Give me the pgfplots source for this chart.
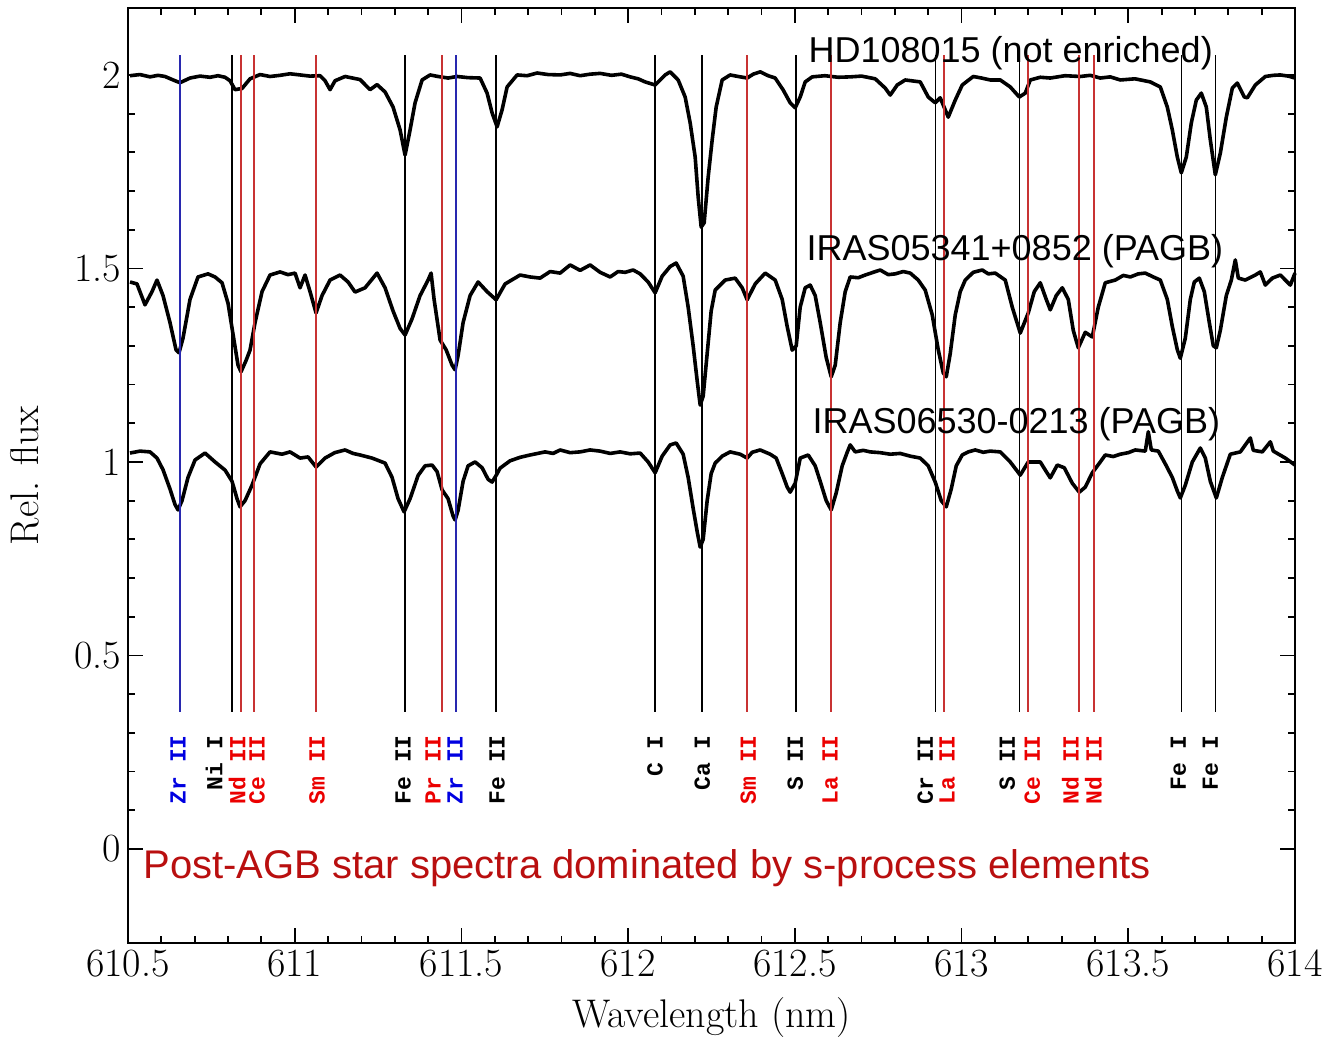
\documentclass[border=0pt]{standalone}
\usepackage{fontspec}
\usepackage{pgfplots}
\pgfplotsset{compat=1.18}
\newfontfamily\arial{Liberation Sans}
\newfontfamily\mono{Liberation Mono}
\definecolor{lred}{RGB}{200,50,50}
\definecolor{lblue}{RGB}{40,40,175}
\definecolor{tred}{RGB}{235,0,0}
\definecolor{tblue}{RGB}{0,0,225}
\definecolor{ared}{RGB}{185,15,15}
\pgfplotstableread{
x y
610.506 1.998
610.536 2.001
610.566 1.995
610.590 1.999
610.611 1.996
610.641 1.985
610.656 1.980
610.686 1.992
610.716 1.997
610.746 1.994
610.770 1.998
610.791 1.994
610.806 1.985
610.821 1.962
610.842 1.965
610.866 1.990
610.896 2.001
610.926 1.996
610.956 1.999
610.986 2.003
611.016 2.000
611.046 1.997
611.076 1.998
611.091 1.985
611.106 1.962
611.121 1.985
611.151 1.996
611.196 1.988
611.226 1.962
611.247 1.975
611.271 1.956
611.295 1.917
611.316 1.858
611.331 1.793
611.346 1.858
611.361 1.928
611.382 1.987
611.406 2.000
611.430 1.996
611.460 1.992
611.487 1.996
611.520 1.993
611.556 1.992
611.577 1.953
611.592 1.902
611.607 1.866
611.622 1.910
611.637 1.969
611.667 2.000
611.697 1.998
611.727 2.005
611.760 2.001
611.796 2.000
611.826 2.004
611.856 1.998
611.886 2.002
611.916 2.004
611.950 1.999
611.980 2.002
612.006 1.995
612.030 1.990
612.051 1.982
612.081 1.974
612.111 2.000
612.126 2.008
612.150 1.987
612.171 1.943
612.186 1.876
612.201 1.788
612.210 1.685
612.219 1.607
612.228 1.618
612.240 1.736
612.252 1.832
612.264 1.917
612.282 1.987
612.306 2.000
612.330 1.996
612.357 1.992
612.375 2.002
612.396 2.008
612.420 1.998
612.441 1.992
612.465 1.961
612.486 1.928
612.501 1.915
612.516 1.943
612.531 1.982
612.552 1.995
612.590 1.998
612.630 1.994
612.666 1.995
612.700 1.997
612.741 1.990
612.771 1.966
612.786 1.948
612.807 1.974
612.831 1.987
612.876 1.982
612.900 1.943
612.921 1.928
612.936 1.941
612.960 1.891
612.981 1.935
613.002 1.974
613.035 1.996
613.060 1.992
613.086 1.987
613.116 1.987
613.146 1.969
613.173 1.943
613.191 1.953
613.206 1.987
613.236 1.994
613.266 1.992
613.310 1.998
613.356 1.996
613.386 1.999
613.416 1.992
613.446 1.995
613.476 1.987
613.520 1.990
613.566 1.982
613.596 1.969
613.617 1.917
613.632 1.858
613.647 1.788
613.659 1.747
613.674 1.788
613.689 1.876
613.704 1.935
613.719 1.953
613.734 1.917
613.746 1.832
613.761 1.742
613.776 1.798
613.794 1.891
613.812 1.966
613.827 1.979
613.848 1.943
613.857 1.941
613.881 1.974
613.911 1.996
613.935 1.999
613.956 2.000
613.980 1.997
614.000 1.992
}\specA
\pgfplotstableread{
x y
610.506 1.465
610.527 1.460
610.551 1.406
610.572 1.440
610.587 1.470
610.605 1.430
610.626 1.360
610.644 1.290
610.653 1.282
610.665 1.320
610.686 1.420
610.710 1.478
610.740 1.486
610.761 1.478
610.782 1.463
610.800 1.410
610.815 1.330
610.830 1.250
610.839 1.233
610.854 1.262
610.866 1.289
610.881 1.360
610.902 1.440
610.926 1.483
610.956 1.491
610.980 1.484
611.001 1.488
611.016 1.450
611.031 1.483
611.046 1.440
611.064 1.385
611.082 1.430
611.106 1.470
611.136 1.483
611.160 1.465
611.181 1.439
611.211 1.450
611.247 1.488
611.271 1.450
611.295 1.390
611.316 1.345
611.331 1.328
611.352 1.370
611.376 1.430
611.400 1.470
611.409 1.488
611.418 1.420
611.436 1.315
611.454 1.290
611.472 1.250
611.481 1.238
611.490 1.275
611.505 1.360
611.526 1.430
611.550 1.465
611.577 1.440
611.604 1.419
611.631 1.460
611.676 1.483
611.706 1.478
611.736 1.475
611.766 1.492
611.796 1.488
611.826 1.509
611.856 1.495
611.886 1.509
611.916 1.490
611.946 1.478
611.970 1.492
611.991 1.490
612.015 1.496
612.036 1.486
612.060 1.465
612.081 1.437
612.102 1.480
612.126 1.505
612.144 1.514
612.165 1.480
612.180 1.400
612.195 1.300
612.207 1.210
612.216 1.147
612.225 1.170
612.237 1.280
612.249 1.390
612.261 1.444
612.291 1.470
612.321 1.475
612.342 1.450
612.357 1.419
612.381 1.460
612.411 1.488
612.441 1.470
612.462 1.420
612.477 1.350
612.492 1.289
612.504 1.300
612.516 1.400
612.531 1.450
612.546 1.457
612.561 1.430
612.576 1.360
612.594 1.270
612.609 1.220
612.621 1.250
612.636 1.360
612.651 1.440
612.666 1.478
612.690 1.476
612.711 1.483
612.735 1.490
612.756 1.496
612.780 1.484
612.801 1.486
612.825 1.492
612.846 1.488
612.870 1.470
612.891 1.444
612.912 1.380
612.930 1.290
612.945 1.230
612.954 1.220
612.966 1.280
612.981 1.380
612.996 1.440
613.011 1.470
613.035 1.490
613.062 1.496
613.080 1.486
613.101 1.488
613.131 1.470
613.152 1.400
613.176 1.333
613.200 1.385
613.218 1.440
613.236 1.463
613.254 1.420
613.266 1.393
613.284 1.430
613.302 1.450
613.320 1.420
613.335 1.340
613.350 1.295
613.371 1.335
613.392 1.323
613.410 1.400
613.431 1.463
613.461 1.470
613.485 1.482
613.506 1.478
613.530 1.486
613.551 1.488
613.575 1.478
613.596 1.470
613.617 1.420
613.632 1.350
613.647 1.290
613.656 1.268
613.671 1.320
613.686 1.420
613.698 1.465
613.713 1.475
613.728 1.440
613.743 1.360
613.755 1.300
613.764 1.295
613.776 1.340
613.794 1.430
613.809 1.470
613.821 1.522
613.830 1.475
613.851 1.470
613.881 1.483
613.896 1.491
613.911 1.457
613.932 1.475
613.956 1.483
613.986 1.457
614.000 1.488
}\specB
\pgfplotstableread{
x y
610.506 1.023
610.536 1.028
610.566 1.026
610.587 1.010
610.605 0.980
610.626 0.930
610.641 0.890
610.650 0.876
610.662 0.900
610.680 0.960
610.701 1.005
610.731 1.023
610.761 1.000
610.791 0.979
610.812 0.950
610.827 0.905
610.836 0.884
610.851 0.900
610.872 0.940
610.896 0.995
610.926 1.026
610.962 1.020
610.986 1.026
611.016 1.010
611.040 1.013
611.064 0.987
611.091 1.010
611.120 1.024
611.151 1.031
611.175 1.022
611.196 1.018
611.232 1.010
611.271 0.997
611.292 0.960
611.310 0.905
611.328 0.871
611.346 0.905
611.370 0.965
611.391 0.990
611.412 0.992
611.427 0.975
611.442 0.928
611.460 0.905
611.475 0.860
611.481 0.850
611.490 0.875
611.505 0.950
611.520 0.990
611.541 1.000
611.562 0.985
611.580 0.955
611.592 0.948
611.604 0.965
611.616 0.984
611.646 1.003
611.676 1.012
611.706 1.018
611.751 1.026
611.775 1.022
611.796 1.031
611.826 1.024
611.856 1.026
611.886 1.031
611.916 1.028
611.946 1.022
611.976 1.026
612.006 1.021
612.036 1.023
612.060 1.000
612.081 0.972
612.102 1.015
612.126 1.044
612.144 1.049
612.165 1.020
612.180 0.960
612.195 0.880
612.207 0.820
612.216 0.780
612.225 0.800
612.237 0.900
612.249 0.970
612.261 0.997
612.282 1.015
612.306 1.026
612.336 1.020
612.357 1.010
612.372 1.025
612.396 1.031
612.426 1.020
612.444 1.010
612.462 0.970
612.477 0.935
612.486 0.922
612.501 0.945
612.516 1.010
612.540 1.018
612.561 0.990
612.576 0.950
612.594 0.900
612.609 0.876
612.624 0.920
612.642 0.990
612.657 1.025
612.666 1.044
612.681 1.026
612.705 1.030
612.726 1.026
612.756 1.024
612.786 1.020
612.816 1.022
612.846 1.015
612.876 1.010
612.900 0.990
612.921 0.948
612.939 0.900
612.954 0.884
612.969 0.930
612.984 0.990
613.002 1.018
613.020 1.026
613.041 1.031
613.065 1.025
613.086 1.028
613.116 1.026
613.146 1.000
613.176 0.966
613.200 1.000
613.236 1.000
613.254 0.975
613.266 0.959
613.287 0.992
613.308 0.985
613.332 0.945
613.353 0.922
613.371 0.935
613.392 0.972
613.416 1.000
613.431 1.018
613.455 1.014
613.476 1.020
613.500 1.024
613.521 1.031
613.551 1.028
613.560 1.078
613.569 1.031
613.590 1.028
613.611 0.995
613.632 0.960
613.647 0.925
613.656 0.907
613.671 0.940
613.692 1.000
613.716 1.036
613.731 1.010
613.746 0.950
613.764 0.907
613.782 0.960
613.806 1.020
613.836 1.026
613.866 1.062
613.875 1.030
613.902 1.026
613.926 1.052
613.935 1.028
613.971 1.010
614.000 0.992
}\specC
\begin{document}
\begin{tikzpicture}
\begin{axis}[
  scale only axis, width=583.5pt, height=467.5pt,
  xmin=610.5, xmax=614, ymin=-0.243, ymax=2.173,
  scaled x ticks=false, scaled y ticks=false,
  xtick={610.5,611,611.5,612,612.5,613,613.5,614},
  xticklabels={610.5,611,611.5,612,612.5,613,613.5,614},
  ytick={0,0.5,1,1.5,2}, yticklabels={0,0.5,1,1.5,2},
  minor x tick num=4, minor y tick num=4,
  tick align=inside, major tick length=7.5pt, minor tick length=3.5pt,
  every tick/.style={black, line width=0.9pt},
  axis line style={line width=1pt},
  tick label style={font=\fontsize{20}{24}\selectfont},
  xlabel={Wavelength (nm)}, ylabel={Rel. flux},
  label style={font=\fontsize{20}{24}\selectfont},
  xlabel style={anchor=center, at={(axis description cs:0.5,-0.0802)}},
  ylabel style={anchor=center, at={(axis description cs:-0.0883,0.5)}},
  clip=false,
]
\addplot[black, line width=1.8pt, line join=round] table {\specA};
\addplot[black, line width=1.8pt, line join=round] table {\specB};
\addplot[black, line width=1.8pt, line join=round] table {\specC};
% black lines
\addplot[black, line width=0.7pt] coordinates {(610.812,0.354) (610.812,2.052)};
\addplot[black, line width=0.7pt] coordinates {(611.331,0.354) (611.331,2.052)};
\addplot[black, line width=0.7pt] coordinates {(611.604,0.354) (611.604,2.052)};
\addplot[black, line width=0.7pt] coordinates {(612.081,0.354) (612.081,2.052)};
\addplot[black, line width=0.7pt] coordinates {(612.222,0.354) (612.222,2.052)};
\addplot[black, line width=0.7pt] coordinates {(612.504,0.354) (612.504,2.052)};
\addplot[black, line width=0.7pt] coordinates {(612.921,0.354) (612.921,2.052)};
\addplot[black, line width=0.7pt] coordinates {(613.173,0.354) (613.173,2.052)};
\addplot[black, line width=0.7pt] coordinates {(613.659,0.354) (613.659,2.052)};
\addplot[black, line width=0.7pt] coordinates {(613.761,0.354) (613.761,2.052)};
% red lines
\addplot[lred, line width=0.9pt] coordinates {(610.839,0.354) (610.839,2.052)};
\addplot[lred, line width=0.9pt] coordinates {(610.878,0.354) (610.878,2.052)};
\addplot[lred, line width=0.9pt] coordinates {(611.064,0.354) (611.064,2.052)};
\addplot[lred, line width=0.9pt] coordinates {(611.442,0.354) (611.442,2.052)};
\addplot[lred, line width=0.9pt] coordinates {(612.357,0.354) (612.357,2.052)};
\addplot[lred, line width=0.9pt] coordinates {(612.609,0.354) (612.609,2.052)};
\addplot[lred, line width=0.9pt] coordinates {(612.948,0.354) (612.948,2.052)};
\addplot[lred, line width=0.9pt] coordinates {(613.200,0.354) (613.200,2.052)};
\addplot[lred, line width=0.9pt] coordinates {(613.353,0.354) (613.353,2.052)};
\addplot[lred, line width=0.9pt] coordinates {(613.398,0.354) (613.398,2.052)};
% blue lines
\addplot[lblue, line width=0.9pt] coordinates {(610.656,0.354) (610.656,2.052)};
\addplot[lblue, line width=0.9pt] coordinates {(611.484,0.354) (611.484,2.052)};
% line labels
\begin{scope}[every node/.style={rotate=90, anchor=east, inner sep=0pt, font=\mono\bfseries\fontsize{11.5}{12}\selectfont}]
\node[text=tblue] at (axis cs:610.650,0.295) {Zr II};
\node[text=black] at (axis cs:610.758,0.295) {Ni I};
\node[text=tred] at (axis cs:610.827,0.295) {Nd II};
\node[text=tred] at (axis cs:610.887,0.295) {Ce II};
\node[text=tred] at (axis cs:611.067,0.295) {Sm II};
\node[text=black] at (axis cs:611.325,0.295) {Fe II};
\node[text=tred] at (axis cs:611.415,0.295) {Pr II};
\node[text=tblue] at (axis cs:611.481,0.295) {Zr II};
\node[text=black] at (axis cs:611.607,0.295) {Fe II};
\node[text=black] at (axis cs:612.081,0.295) {C I};
\node[text=black] at (axis cs:612.222,0.295) {Ca I};
\node[text=tred] at (axis cs:612.360,0.295) {Sm II};
\node[text=black] at (axis cs:612.501,0.295) {S II};
\node[text=tred] at (axis cs:612.606,0.295) {La II};
\node[text=black] at (axis cs:612.891,0.295) {Cr II};
\node[text=tred] at (axis cs:612.957,0.295) {La II};
\node[text=black] at (axis cs:613.137,0.295) {S II};
\node[text=tred] at (axis cs:613.212,0.295) {Ce II};
\node[text=tred] at (axis cs:613.326,0.295) {Nd II};
\node[text=tred] at (axis cs:613.395,0.295) {Nd II};
\node[text=black] at (axis cs:613.650,0.295) {Fe I};
\node[text=black] at (axis cs:613.746,0.295) {Fe I};
\end{scope}
\node[anchor=west, inner sep=0pt, font=\arial\fontsize{18}{21}\selectfont] at (axis cs:612.540,2.055) {HD108015 (not enriched)};
\node[anchor=west, inner sep=0pt, font=\arial\fontsize{18}{21}\selectfont] at (axis cs:612.534,1.545) {IRAS05341+0852 (PAGB)};
\node[anchor=west, inner sep=0pt, font=\arial\fontsize{18}{21}\selectfont] at (axis cs:612.552,1.098) {IRAS06530-0213 (PAGB)};
\node[anchor=west, inner sep=0pt, text=ared, font=\arial\fontsize{20}{23}\selectfont] at (axis cs:610.545,-0.049) {Post-AGB star spectra dominated by s-process elements};
\end{axis}
\pgfresetboundingbox
\path[use as bounding box] (-64pt,-47.5pt) rectangle (598.5pt,471.5pt);
\end{tikzpicture}
\end{document}
